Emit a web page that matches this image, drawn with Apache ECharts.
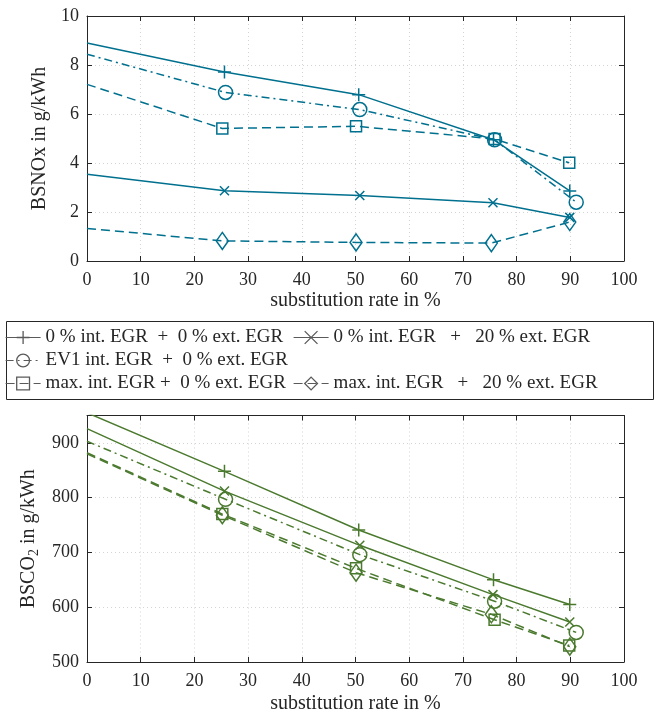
<!DOCTYPE html>
<html>
<head>
<meta charset="utf-8">
<script src="https://cdn.jsdelivr.net/npm/echarts@6/dist/echarts.min.js"></script>
<style>html,body{margin:0;padding:0;background:#fff;}#c{width:657px;height:715px;}</style>
</head>
<body>
<div id="c"></div>
<script>
// ---- data ----
const xTicks = [0, 10, 20, 30, 40, 50, 60, 70, 80, 90, 100];
const noxTicks = [0, 2, 4, 6, 8, 10];
const co2Ticks = [500, 600, 700, 800, 900];

const names = [
  '0 % int. EGR  +  0 % ext. EGR',
  '0 % int. EGR   +   20 % ext. EGR',
  'EV1 int. EGR  +  0 % ext. EGR',
  'max. int. EGR +  0 % ext. EGR',
  'max. int. EGR   +   20 % ext. EGR'
];

const xPlus    = [0, 25.6, 50.6, 75.7, 89.9];
const xCross   = [0, 25.6, 50.8, 75.6, 89.9];
const xCircle  = [0, 25.8, 50.8, 75.9, 91.1];
const xSquare  = [0, 25.2, 50.1, 75.9, 89.8];
const xDiamond = [0, 25.2, 50.1, 75.3, 89.9];

const noxPlus    = [8.90, 7.71, 6.79, 4.95, 2.86];
const noxCross   = [3.54, 2.87, 2.67, 2.38, 1.78];
const noxCircle  = [8.44, 6.88, 6.18, 4.95, 2.40];
const noxSquare  = [7.21, 5.41, 5.50, 4.98, 4.01];
const noxDiamond = [1.33, 0.82, 0.76, 0.73, 1.59];

const co2Plus    = [955, 848, 741, 650, 605];
const co2Cross   = [926, 812, 713, 623, 573];
const co2Circle  = [903, 797, 696, 611, 554];
const co2Square  = [882, 770, 671, 577, 530];
const co2Diamond = [880, 768, 663, 587, 528];

// ---- styles ----
const FONT = 'Liberation Serif';
const TXT = '#262626';
const TEAL = '#00708f';
const GREEN = '#4b7a2f';
const LEG = '#5a5a5a';
const DASH = [9, 5];
const DASHDOT = [8, 4, 2, 4];

const symPlus = 'path://M5,0L5,10M0,5L10,5';
const symCross = 'path://M0,0L10,10M10,0L0,10';

const kinds = [
  {x: xPlus, sym: symPlus, size: 13, type: 'solid'},
  {x: xCross, sym: symCross, size: 9, type: 'solid'},
  {x: xCircle, sym: 'circle', size: 14, type: DASHDOT},
  {x: xSquare, sym: 'rect', size: 11, type: DASH},
  {x: xDiamond, sym: 'diamond', size: [12, 17], type: DASH}
];
const noxData = [noxPlus, noxCross, noxCircle, noxSquare, noxDiamond];
const co2Data = [co2Plus, co2Cross, co2Circle, co2Square, co2Diamond];

// first point (x = 0) is drawn without a marker, as in the reference
function zip(xs, ys) {
  return xs.map((x, i) => i === 0 ? {value: [x, ys[i]], symbol: 'none'} : {value: [x, ys[i]]});
}

function mkSeries(k, i, ys, color, gi) {
  return {
    name: names[i], type: 'line', xAxisIndex: gi * 2, yAxisIndex: gi * 2,
    data: zip(k.x, ys), symbol: k.sym, symbolSize: k.size, showSymbol: true,
    clip: true, animation: false,
    lineStyle: {color: color, width: 1.5, type: k.type},
    itemStyle: {color: 'rgba(0,0,0,0)', borderColor: color, borderWidth: 1.5},
    emphasis: {disabled: true}
  };
}

const series = [];
kinds.forEach((k, i) => series.push(mkSeries(k, i, noxData[i], TEAL, 0)));
kinds.forEach((k, i) => series.push(mkSeries(k, i, co2Data[i], GREEN, 1)));

const grids = [
  {left: 87, right: 33, top: 16, height: 245},
  {left: 87, right: 33, top: 415.5, height: 246.5}
];

const gridLine = {show: true, lineStyle: {color: '#d4d4d4', type: [1, 3], width: 1}};
const axLine = {show: true, onZero: false, lineStyle: {color: TXT, width: 1}};
const tick = {show: true, inside: true, length: 5, lineStyle: {color: TXT}};
const lab = {fontFamily: FONT, fontSize: 18, color: TXT};
const nameStyle = {fontFamily: FONT, fontSize: 20, color: TXT};

function xAxes(gi, gap) {
  return [
    {gridIndex: gi, type: 'value', min: 0, max: 100, interval: 10, position: 'bottom',
     axisLine: axLine, axisTick: tick, splitLine: gridLine,
     axisLabel: Object.assign({margin: 10, formatter: v => xTicks.includes(v) ? String(v) : ''}, lab),
     name: 'substitution rate in %', nameLocation: 'middle', nameGap: gap,
     nameTextStyle: nameStyle},
    {gridIndex: gi, type: 'value', min: 0, max: 100, interval: 10, position: 'top',
     axisLine: axLine, axisTick: tick, splitLine: {show: false}, axisLabel: {show: false}}
  ];
}
function yAxes(gi, min, max, interval, ticks, nameObj) {
  return [
    Object.assign({gridIndex: gi, type: 'value', min: min, max: max, interval: interval, position: 'left',
     axisLine: axLine, axisTick: tick, splitLine: gridLine,
     axisLabel: Object.assign({margin: 8, formatter: v => ticks.includes(v) ? String(v) : ''}, lab),
     nameLocation: 'middle'}, nameObj),
    {gridIndex: gi, type: 'value', min: min, max: max, interval: interval, position: 'right',
     axisLine: axLine, axisTick: tick, splitLine: {show: false}, axisLabel: {show: false}}
  ];
}

const legendPos = [
  {left: 5, top: 328},
  {left: 293, top: 328},
  {left: 5, top: 351},
  {left: 5, top: 374},
  {left: 293, top: 374}
];
const legends = legendPos.map((p, i) => ({
  data: [names[i]], left: p.left, top: p.top, orient: 'horizontal', padding: 0,
  itemWidth: 35, itemHeight: 16, selectedMode: false,
  textStyle: {fontFamily: FONT, fontSize: 19, color: TXT},
  lineStyle: {color: LEG, width: 1.2},
  itemStyle: {color: 'rgba(0,0,0,0)', borderColor: LEG, borderWidth: 1.3}
}));

const option = {
  animation: false,
  backgroundColor: '#fff',
  grid: grids,
  xAxis: xAxes(0, 30).concat(xAxes(1, 32)),
  yAxis: yAxes(0, 0, 10, 2, noxTicks, {
      name: 'BSNOx in g/kWh', nameGap: 36, nameTextStyle: nameStyle
    }).concat(yAxes(1, 500, 950, 100, co2Ticks, {
      name: 'BSCO{s|2} in g/kWh', nameGap: 45,
      nameTextStyle: Object.assign({
        rich: {s: {fontFamily: FONT, fontSize: 14, color: TXT, lineHeight: 14, padding: [11, 0, 0, 0]}}}, nameStyle)
    })),
  legend: legends,
  graphic: [{type: 'rect', left: 4, top: 319, shape: {width: 647, height: 78},
             style: {fill: 'none', stroke: TXT, lineWidth: 1}, silent: true}],
  series: series
};

const chart = echarts.init(document.getElementById('c'), null, {renderer: 'canvas'});
chart.setOption(option);
</script>
</body>
</html>
